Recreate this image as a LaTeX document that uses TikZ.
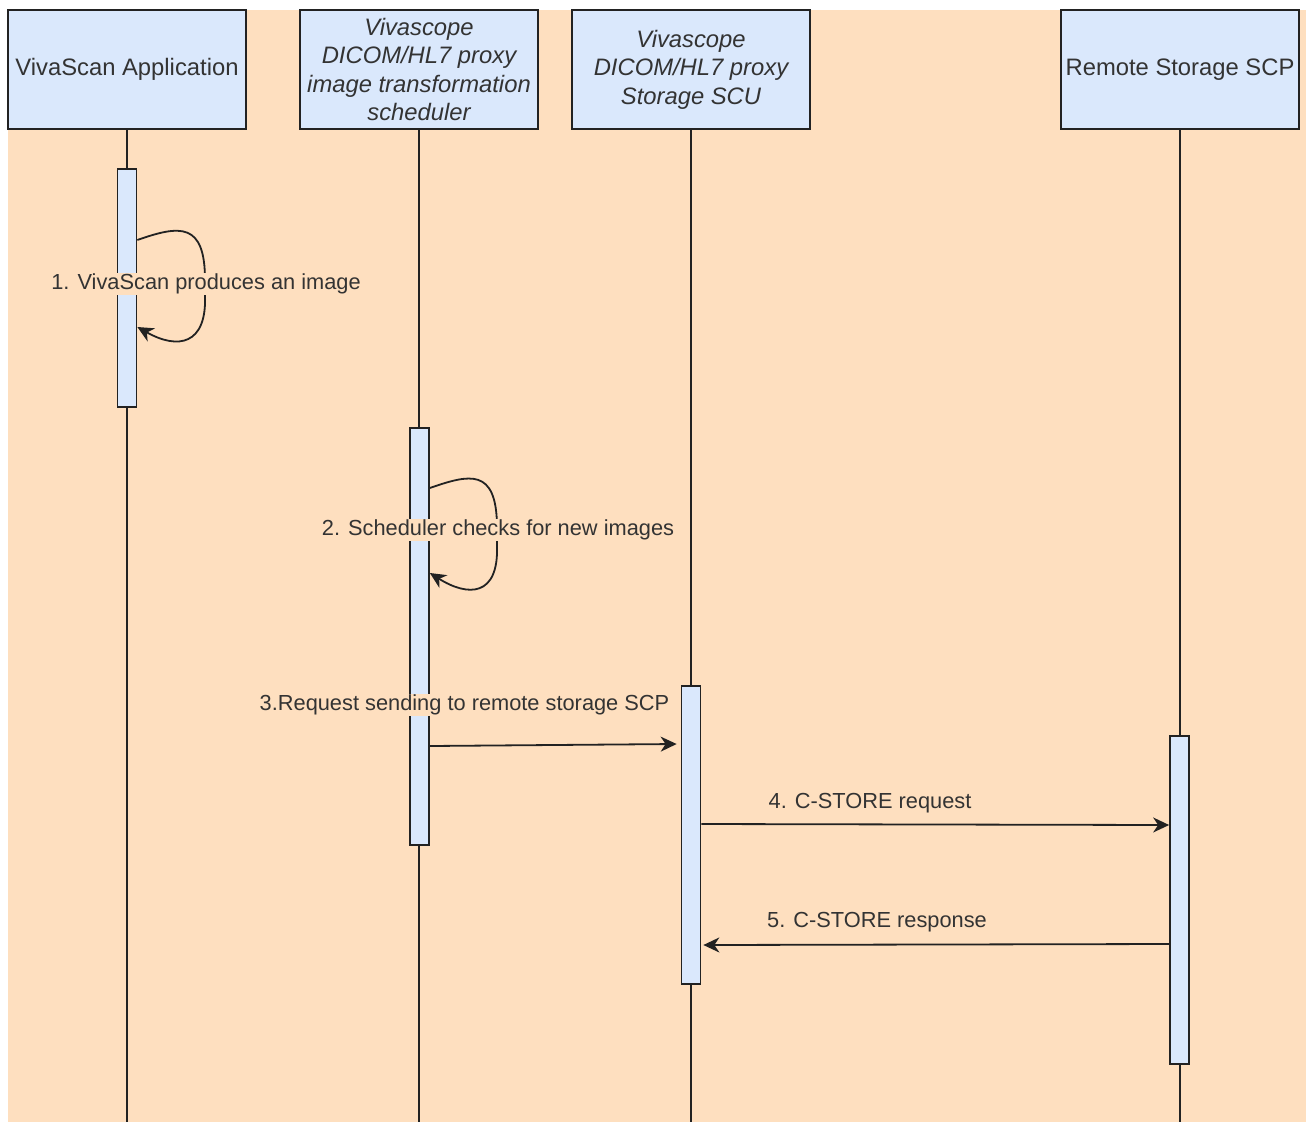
\documentclass[tikz,border=0pt]{standalone}
\usepackage{fontspec}
\setmainfont{Liberation Sans}
\usetikzlibrary{arrows.meta,calc}
\definecolor{peach}{HTML}{FEDFBF}
\definecolor{boxblue}{HTML}{DAE8FC}
\definecolor{txt}{HTML}{333333}
\definecolor{ln}{HTML}{222222}
\tikzset{
  actor/.style={draw=ln, fill=boxblue, line width=1.7pt, minimum width=238pt, minimum height=119pt,
    inner sep=0pt, align=center, text=txt, font=\fontsize{23.8}{28.5}\selectfont},
  italactor/.style={actor, font=\fontsize{23.8}{28.5}\selectfont\itshape},
  activ/.style={draw=ln, fill=boxblue, line width=1.7pt, minimum width=19pt, inner sep=0pt},
  lifeline/.style={draw=ln, line width=1.7pt},
  msg/.style={draw=ln, line width=1.8pt, -{Stealth[length=16pt,width=15pt,inset=5pt]}},
  lbl/.style={fill=peach, text=txt, inner sep=1pt, font=\fontsize{21.8}{26}\selectfont}
}
\begin{document}
\begin{tikzpicture}[x=1pt,y=-1pt]
\useasboundingbox (0,0) rectangle (1306,1122);
\fill[white] (0,0) rectangle (1306,1122);
\fill[peach] (8,10) rectangle (1306,1122);

% actors
\node[actor] (a1) at (127,69.5) {VivaScan Application};
\node[italactor] (a2) at (419,69.5) {Vivascope\\DICOM/HL7 proxy\\image transformation\\scheduler};
\node[italactor] (a3) at (691,69.5) {Vivascope\\DICOM/HL7 proxy\\Storage SCU};
\node[actor] (a4) at (1180,69.5) {Remote Storage SCP};

% lifeline ends
\coordinate (e1) at (127,1122);
\coordinate (e2) at (419,1122);
\coordinate (e3) at (691,1122);
\coordinate (e4) at (1180,1122);
\draw[lifeline] (a1.south) -- (e1);
\draw[lifeline] (a2.south) -- (e2);
\draw[lifeline] (a3.south) -- (e3);
\draw[lifeline] (a4.south) -- (e4);

% activations
\node[activ, minimum height=238pt] (b1) at (127,288) {};
\node[activ, minimum height=417pt] (b2) at (419.5,636.5) {};
\node[activ, minimum height=298pt] (b3) at (691,835) {};
\node[activ, minimum height=328pt] (b4) at (1179.5,900) {};

% 1 self loop
\draw[msg] (b1.east |- 0,240) .. controls (180,225) and (205,222) .. (205,280)
  -- (205,295) .. controls (207,345) and (178,350) .. (b1.east |- 0,327);
\node[lbl] (l1) at (206,284) {1. VivaScan produces an image};

% 2 self loop
\draw[msg] (b2.east |- 0,488) .. controls (470,474) and (496,468) .. (497,525)
  -- (497,545) .. controls (499,597) and (468,597) .. (b2.east |- 0,573);
\node[lbl] (l2) at (498,530) {2. Scheduler checks for new images};

% 3
\draw[msg] (b2.east |- 0,746) -- ($(b3.west |- 0,744)+(-4,0)$);
\node[lbl] (l3) at (464.5,705) {3.Request sending to remote storage SCP};

% 4
\draw[msg] (b3.east |- 0,824) -- (b4.west |- 0,825);
\node[lbl] (l4) at (870,803) {4. C-STORE request};

% 5
\draw[msg] (b4.west |- 0,944) -- ($(b3.east |- 0,945)+(2,0)$);
\node[lbl] (l5) at (877,922) {5. C-STORE response};
\end{tikzpicture}
\end{document}
